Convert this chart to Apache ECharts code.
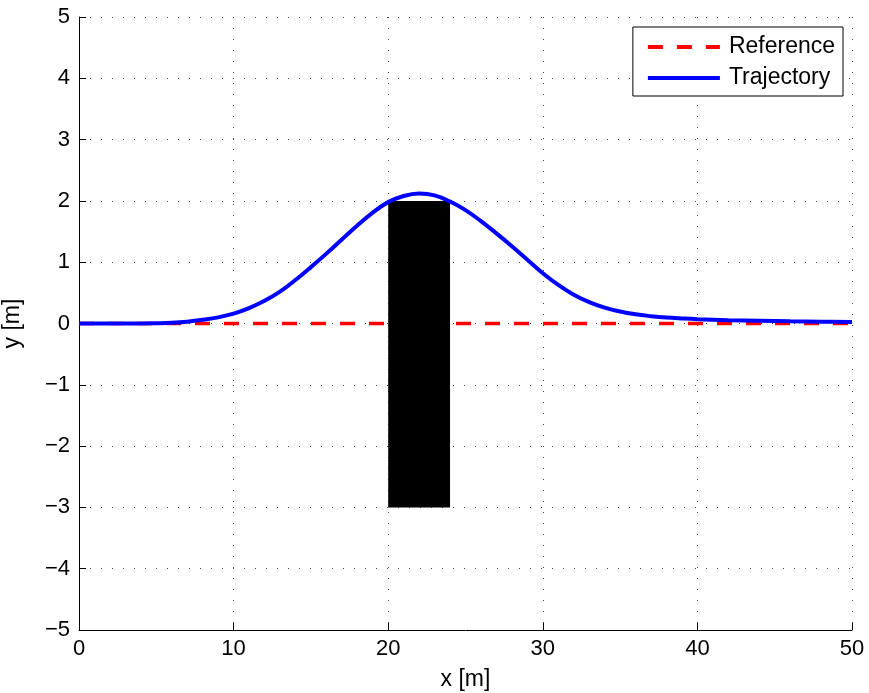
<!DOCTYPE html>
<html>
<head>
<meta charset="utf-8">
<script src="https://cdn.jsdelivr.net/npm/echarts@6/dist/echarts.min.js"></script>
<style>html,body{margin:0;padding:0;background:#fff}#c{width:869px;height:693px}</style>
</head>
<body>
<div id="c"></div>
<script>
const xTicks = [0, 10, 20, 30, 40, 50];
const yTicks = [-5, -4, -3, -2, -1, 0, 1, 2, 3, 4, 5];
const referenceX = [0, 50];
const referenceY = [0, 0];
const trajX = [0, 2, 4, 5, 6, 7, 8, 9, 10, 11, 12, 13, 14, 15, 16, 17, 18, 19, 20, 21, 22, 23, 24, 25, 26, 27, 28, 29, 30, 31, 32, 33, 34, 35, 36, 37, 38, 39, 40, 42, 44, 46, 48, 50];
const trajY = [0, 0, 0.002, 0.005, 0.012, 0.03, 0.06, 0.10, 0.16, 0.25, 0.37, 0.52, 0.71, 0.92, 1.14, 1.37, 1.60, 1.81, 1.98, 2.08, 2.12, 2.09, 1.99, 1.85, 1.67, 1.47, 1.26, 1.04, 0.82, 0.63, 0.47, 0.35, 0.26, 0.195, 0.15, 0.12, 0.097, 0.082, 0.07, 0.055, 0.045, 0.036, 0.03, 0.025];
const obstacle = { x0: 20, x1: 24, y0: -3, y1: 2 };
const seriesNames = ['Reference', 'Trajectory'];

const font = 'Liberation Sans, Arial, sans-serif';
const chart = echarts.init(document.getElementById('c'), null, { renderer: 'canvas' });
const minus = v => String(v).replace('-', '\u2212');
const gridLine = { show: true, lineStyle: { color: '#444', type: [1, 10], width: 1 } };

chart.setOption({
  animation: false,
  backgroundColor: '#fff',
  grid: { left: 79, right: 17, top: 17, bottom: 63, containLabel: false, outerBoundsMode: 'none' },
  legend: {
    right: 26, top: 27, orient: 'vertical', align: 'left',
    backgroundColor: '#fff', borderColor: '#000', borderWidth: 1,
    padding: [8, 8, 6, 13], itemGap: 7, itemWidth: 72, itemHeight: 24,
    itemStyle: { opacity: 0 },
    lineStyle: { width: 4 },
    textStyle: { fontFamily: font, fontSize: 23, lineHeight: 24, color: '#000', padding: [0, 0, 0, 4] },
    data: seriesNames
  },
  xAxis: {
    type: 'value', min: xTicks[0], max: xTicks[xTicks.length - 1], interval: 10,
    name: 'x [m]', nameLocation: 'middle', nameGap: 38,
    nameTextStyle: { fontFamily: font, fontSize: 23, color: '#000' },
    axisLine: { show: true, onZero: false, lineStyle: { color: '#000', width: 1 } },
    axisTick: { show: true, inside: true, length: 7, lineStyle: { color: '#000' } },
    axisLabel: { fontFamily: font, fontSize: 22, color: '#000', margin: 8, formatter: minus },
    splitLine: gridLine
  },
  yAxis: {
    type: 'value', min: yTicks[0], max: yTicks[yTicks.length - 1], interval: 1,
    name: 'y [m]', nameLocation: 'middle', nameGap: 55, nameRotate: 90,
    nameTextStyle: { fontFamily: font, fontSize: 23, color: '#000' },
    axisLine: { show: true, onZero: false, lineStyle: { color: '#000', width: 1 } },
    axisTick: { show: true, inside: true, length: 7, lineStyle: { color: '#000' } },
    axisLabel: { fontFamily: font, fontSize: 22, color: '#000', margin: 9, formatter: minus },
    splitLine: gridLine
  },
  series: [
    {
      name: seriesNames[0], type: 'line', z: 2, symbol: 'none', silent: true,
      data: referenceX.map((x, i) => [x, referenceY[i]]),
      lineStyle: { color: '#ff0000', width: 3.5, type: [15, 14] },
      itemStyle: { color: '#ff0000' }
    },
    {
      name: 'obstacle', type: 'custom', z: 3, silent: true,
      data: [[obstacle.x0, obstacle.y0, obstacle.x1, obstacle.y1]],
      renderItem: (params, api) => {
        const p0 = api.coord([api.value(0), api.value(3)]);
        const p1 = api.coord([api.value(2), api.value(1)]);
        return { type: 'rect', shape: { x: p0[0], y: p0[1], width: p1[0] - p0[0], height: p1[1] - p0[1] }, style: { fill: '#000' } };
      }
    },
    {
      name: seriesNames[1], type: 'line', z: 4, symbol: 'none', smooth: 0.4, silent: true,
      data: trajX.map((x, i) => [x, trajY[i]]),
      lineStyle: { color: '#0000ff', width: 4 },
      itemStyle: { color: '#0000ff' }
    }
  ]
});
</script>
</body>
</html>
